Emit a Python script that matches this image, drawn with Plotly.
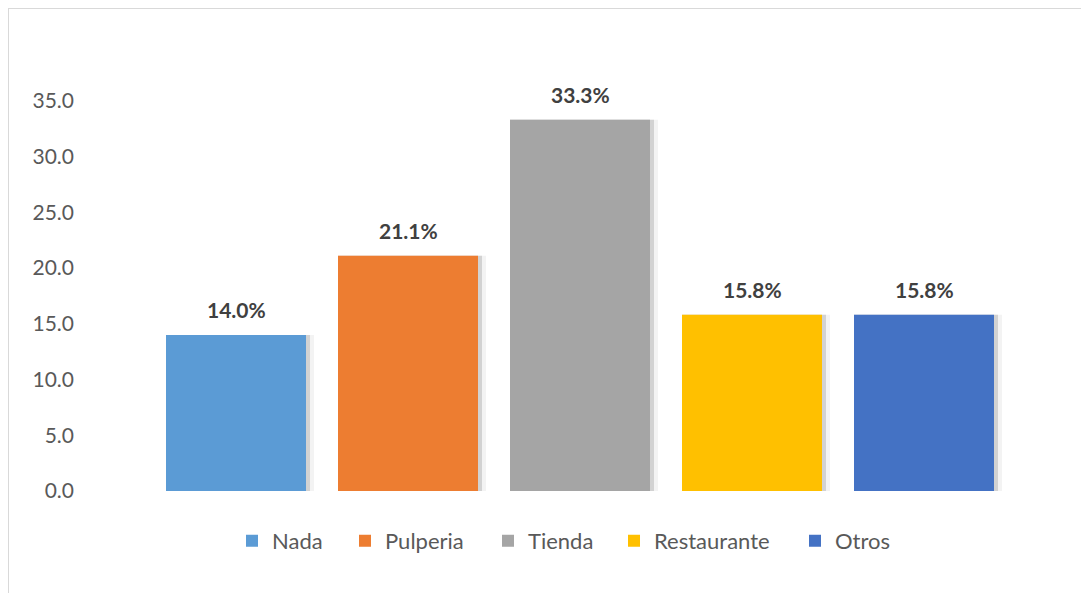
import plotly.graph_objects as go

categories = ["Nada", "Pulperia", "Tienda", "Restaurante", "Otros"]
values = [14.0, 21.1, 33.3, 15.8, 15.8]
colors = ["#5B9BD5", "#ED7D31", "#A5A5A5", "#FFC000", "#4472C4"]
tick_vals = [0, 5, 10, 15, 20, 25, 30, 35]

FONT = "Lato"
BAR_W = 0.814
PLOT_L, PLOT_W = 150, 860
legend_px = [251, 364, 507, 633, 814]  # page x of each legend swatch

fig = go.Figure()

# soft shadow layers
for extra, col in [(8 / 172, "#f3f3f3"), (4 / 172, "#d2d2d2")]:
    fig.add_trace(go.Bar(
        x=categories, y=values, width=BAR_W + extra, offset=-BAR_W / 2,
        marker=dict(color=col, line=dict(width=0)), showlegend=False, hoverinfo="skip",
    ))

legend_layouts = {}
for i, (c, v, col) in enumerate(zip(categories, values, colors)):
    lname = "legend" if i == 0 else f"legend{i + 1}"
    fig.add_trace(go.Bar(
        x=[c], y=[v], name=c, width=BAR_W, offset=-BAR_W / 2, legend=lname,
        marker=dict(color=col, line=dict(width=0)),
    ))
    legend_layouts[lname] = dict(
        orientation="h", x=(legend_px[i] - 19 - PLOT_L) / PLOT_W, xanchor="left",
        y=-0.112, yanchor="middle", bgcolor="rgba(0,0,0,0)",
        font=dict(family=FONT, size=22, color="#595959"), itemwidth=30,
    )

for c, v in zip(categories, values):
    fig.add_annotation(
        x=c, y=v, text=f"<b>{v:.1f}%</b>", showarrow=False,
        yanchor="middle", yshift=25,
        font=dict(family=FONT, size=21, color="#404040"),
    )

fig.add_shape(type="rect", xref="paper", yref="paper",
              x0=(0 - 142) / 860, x1=2, y0=-1, y1=(483 - 0) / 446,
              line=dict(color="#d9d9d9", width=2), layer="below")

fig.update_layout(
    barmode="overlay",
    width=1089, height=593,
    margin=dict(l=142, r=87, t=37, b=110),
    paper_bgcolor="white", plot_bgcolor="white",
    font=dict(family=FONT, size=21, color="#595959"),
    xaxis=dict(showticklabels=False, showgrid=False, zeroline=False, showline=False,
               range=[-0.5, 4.5]),
    yaxis=dict(range=[0, 40], tickvals=tick_vals, tickformat=".1f",
               showgrid=False, zeroline=False, showline=False,
               ticklabelstandoff=75, tickfont=dict(size=21)),
    **legend_layouts,
)

fig.write_html("out.html")
